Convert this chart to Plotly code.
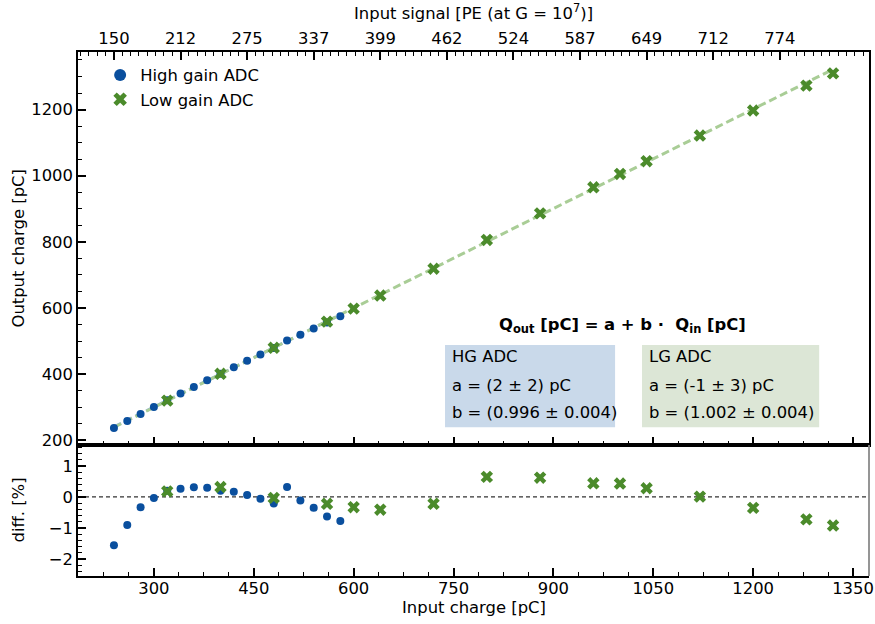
import plotly.graph_objects as go

# ---------------- data ----------------
hg_x = [240, 260, 280, 300, 320, 340, 360, 380, 400, 420, 440, 460, 480, 500, 520, 540, 560, 580]
hg_y = [237.3, 258.6, 279.9, 300.7, 321.4, 341.5, 361.7, 381.6, 401.2, 421.0, 440.5, 459.9,
        479.1, 501.6, 519.3, 537.9, 556.2, 575.2]
hg_diff = [-1.55, -0.90, -0.33, -0.03, 0.20, 0.26, 0.31, 0.30, 0.20, 0.17, 0.06, -0.06,
           -0.21, 0.32, -0.11, -0.35, -0.63, -0.77]

lg_x = [320, 400, 480, 560, 600, 640, 720, 800, 880, 960, 1000, 1040, 1120, 1200, 1280, 1320]
lg_y = [320.2, 401.1, 479.8, 558.9, 598.2, 637.7, 718.8, 805.8, 886.2, 965.1, 1005.3, 1044.0,
        1121.4, 1197.2, 1272.4, 1309.4]
lg_diff = [0.18, 0.32, -0.03, -0.22, -0.33, -0.41, -0.22, 0.645, 0.62, 0.44, 0.43, 0.28,
           0.01, -0.35, -0.72, -0.92]

# fit parameters (Q_out = a + b * Q_in)
hg_a, hg_b = 2.0, 0.996
lg_a, lg_b = -1.0, 1.002
hg_fit_x = [240, 580]
lg_fit_x = [240, 1320]

bottom_ticks = [300, 450, 600, 750, 900, 1050, 1200, 1350]
main_y_ticks = [200, 400, 600, 800, 1000, 1200]
diff_ticks = [-2, -1, 0, 1]
diff_tick_text = ["\u22122", "\u22121", "0", "1"]
top_tick_pos = [240, 340, 440, 540, 640, 740, 840, 940, 1040, 1140, 1240]
top_tick_text = ["150", "212", "275", "337", "399", "462", "524", "587", "649", "712", "774"]

BLUE = "#0a4f9e"
GREEN = "#4b8b2b"
BLUE_L = "#96b6de"
GREEN_L = "#a9cd96"
FONT = "DejaVu Sans"
FS = 16.4

fig = go.Figure()

fig.add_trace(go.Scatter(x=hg_fit_x, y=[hg_a + hg_b * v for v in hg_fit_x], mode="lines",
                         line=dict(color=BLUE_L, width=3, dash="8px,4px"),
                         xaxis="x2", yaxis="y2", showlegend=False, hoverinfo="skip"))
fig.add_trace(go.Scatter(x=lg_fit_x, y=[lg_a + lg_b * v for v in lg_fit_x], mode="lines",
                         line=dict(color=GREEN_L, width=3, dash="8px,4px"),
                         xaxis="x2", yaxis="y2", showlegend=False, hoverinfo="skip"))
fig.add_trace(go.Scatter(x=hg_x, y=hg_y, mode="markers", name="High gain ADC",
                         marker=dict(color=BLUE, size=8, symbol="circle"),
                         xaxis="x2", yaxis="y2"))
fig.add_trace(go.Scatter(x=lg_x, y=lg_y, mode="markers", name="Low gain ADC",
                         marker=dict(color=GREEN, size=11, symbol="x"),
                         xaxis="x2", yaxis="y2"))
fig.add_trace(go.Scatter(x=hg_x, y=hg_diff, mode="markers", showlegend=False,
                         marker=dict(color=BLUE, size=8, symbol="circle"),
                         xaxis="x", yaxis="y"))
fig.add_trace(go.Scatter(x=lg_x, y=lg_diff, mode="markers", showlegend=False,
                         marker=dict(color=GREEN, size=11, symbol="x"),
                         xaxis="x", yaxis="y"))
# invisible trace to activate the top axis
fig.add_trace(go.Scatter(x=[top_tick_pos[0]], y=[hg_y[0]], mode="markers", showlegend=False,
                         marker=dict(opacity=0), xaxis="x3", yaxis="y2", hoverinfo="skip"))

XR = [186, 1374]
YR = [186, 1374]
DSPLIT = 0.25

common = dict(showline=True, linecolor="black", linewidth=1.5, ticks="inside",
              ticklen=8, tickwidth=1.5, tickcolor="black", showgrid=False, zeroline=False,
              automargin=False, tickfont=dict(family=FONT, size=FS, color="black"))
minor_common = dict(ticks="inside", ticklen=4, tickwidth=1.2, tickcolor="black", showgrid=False)

fig.update_layout(
    width=875, height=624,
    margin=dict(l=78, r=6, t=52, b=48, autoexpand=False),
    paper_bgcolor="white", plot_bgcolor="white",
    font=dict(family=FONT, size=FS, color="black"),
    showlegend=True,
    legend=dict(x=0.028, y=0.989, xanchor="left", yanchor="top", bgcolor="rgba(0,0,0,0)",
                font=dict(family=FONT, size=FS), tracegroupgap=0, itemsizing="constant"),
    xaxis=dict(domain=[0, 1], anchor="y", range=XR, tickmode="array", tickvals=bottom_ticks,
               ticklabelstandoff=-3,
               minor=dict(dtick=37.5, tick0=300, **minor_common), mirror=True, **common),
    yaxis=dict(domain=[0, DSPLIT], anchor="x", range=[-2.54, 1.67], tickmode="array",
               tickvals=diff_ticks, ticktext=diff_tick_text,
               minor=dict(dtick=0.2, tick0=0, **minor_common), mirror=False, **common),
    xaxis2=dict(domain=[0, 1], anchor="y2", range=XR, matches="x", tickmode="array",
                tickvals=bottom_ticks, showticklabels=False,
                minor=dict(dtick=37.5, tick0=300, **minor_common), **common),
    yaxis2=dict(domain=[DSPLIT, 1], anchor="x2", range=YR, tickmode="array",
                tickvals=main_y_ticks,
                minor=dict(dtick=50, tick0=200, **minor_common), mirror=True, **common),
    xaxis3=dict(overlaying="x2", anchor="y2", side="top", range=XR, tickmode="array",
                tickvals=top_tick_pos, ticktext=top_tick_text,
                minor=dict(dtick=12.5, tick0=240, **minor_common), **common),
)

# axis titles
tfont = dict(family=FONT, size=FS, color="black")
fig.add_annotation(text="Input signal [PE (at G = 10<sup>7</sup>)]", xref="paper", yref="paper",
                   x=0.5, y=1, yanchor="middle", yshift=40, showarrow=False, font=tfont)
fig.add_annotation(text="Input charge [pC]", xref="paper", yref="paper",
                   x=0.5, y=0, yanchor="middle", yshift=-31, showarrow=False, font=tfont)
fig.add_annotation(text="Output charge [pC]", xref="paper", yref="paper", textangle=-90,
                   x=0, y=(1 + DSPLIT) / 2, xanchor="center", yanchor="middle", xshift=-60,
                   showarrow=False, font=tfont)
fig.add_annotation(text="diff. [%]", xref="paper", yref="paper", textangle=-90,
                   x=0, y=DSPLIT / 2, xanchor="center", yanchor="middle", xshift=-60,
                   showarrow=False, font=tfont)

# residual panel right spine (grey) and zero line
fig.add_shape(type="line", xref="x domain", yref="y domain", x0=1, x1=1, y0=0, y1=1,
              line=dict(color="#8a8a8a", width=1.8))
fig.add_shape(type="line", xref="x domain", yref="y", x0=0, x1=1, y0=0, y1=0,
              line=dict(color="#333333", width=1.2, dash="4px,3px"), layer="below")

# fit-parameter boxes
fig.add_shape(type="rect", xref="paper", yref="paper", x0=0.464, x1=0.679, y0=0.284, y1=0.441,
              fillcolor="#c9d9ea", line=dict(width=0), layer="below")
fig.add_shape(type="rect", xref="paper", yref="paper", x0=0.713, x1=0.937, y0=0.284, y1=0.441,
              fillcolor="#dce6d6", line=dict(width=0), layer="below")

hg_lines = ["HG ADC", "a = (2 \u00b1 2) pC", "b = (0.996 \u00b1 0.004)"]
lg_lines = ["LG ADC", "a = (-1 \u00b1 3) pC", "b = (1.002 \u00b1 0.004)"]
line_y = [0.4186, 0.3636, 0.3125]
for txt, yy in zip(hg_lines, line_y):
    fig.add_annotation(text=txt, xref="paper", yref="paper", x=0.470, y=yy, xanchor="left",
                       yanchor="middle", showarrow=False, font=tfont)
for txt, yy in zip(lg_lines, line_y):
    fig.add_annotation(text=txt, xref="paper", yref="paper", x=0.7193, y=yy, xanchor="left",
                       yanchor="middle", showarrow=False, font=tfont)

fig.add_annotation(text="<b>Q<sub>out</sub> [pC] = a + b \u00b7  Q<sub>in</sub> [pC]</b>",
                   xref="paper", yref="paper", x=0.688, y=0.479, xanchor="center", yanchor="middle",
                   showarrow=False, font=tfont)

fig.write_html("out.html", config={"displayModeBar": False},
               post_script="document.body.style.margin='0';document.body.style.padding='0';")
